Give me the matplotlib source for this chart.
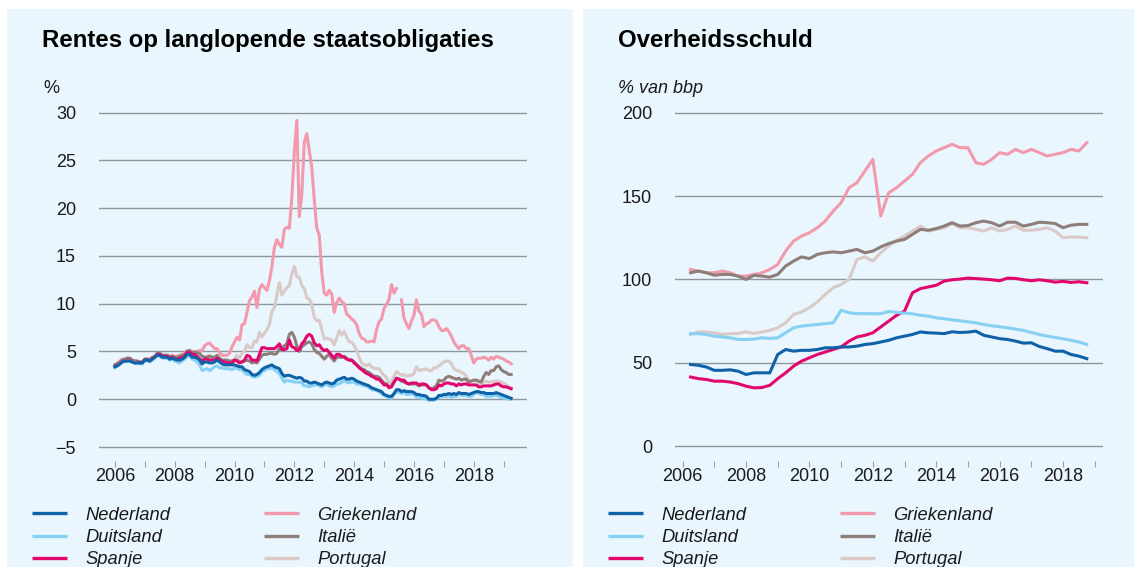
import numpy as np
import matplotlib
matplotlib.use("Agg")
import matplotlib.pyplot as plt
from matplotlib.lines import Line2D
from matplotlib.patches import Rectangle

plt.rcParams['font.family'] = ['Liberation Sans', 'DejaVu Sans']

# ---- data ----
landen = ['Nederland', 'Duitsland', 'Spanje', 'Griekenland', 'Italië', 'Portugal']
kleuren = ['#0f62a8', '#86d0f3', '#e2066f', '#f299ad', '#8e7e7a', '#d9cac7']

# rente 10-jaars staatsobligaties, maandelijks jan 2006 - apr 2019 (%)
rente_nl = [3.4, 3.5, 3.7, 3.9, 4.0, 4.0, 4.0, 3.9, 3.8, 3.8, 3.8, 3.8,
            4.1, 4.1, 4.0, 4.2, 4.4, 4.6, 4.6, 4.4, 4.4, 4.4, 4.2, 4.3,
            4.2, 4.1, 4.1, 4.2, 4.4, 4.7, 4.7, 4.4, 4.4, 4.3, 4.1, 3.7,
            3.9, 3.9, 3.8, 3.8, 3.9, 4.1, 3.9, 3.7, 3.6, 3.6, 3.6, 3.6,
            3.6, 3.5, 3.4, 3.4, 3.1, 3.0, 2.9, 2.6, 2.5, 2.6, 2.8, 3.1,
            3.3, 3.4, 3.5, 3.6, 3.4, 3.3, 3.2, 2.7, 2.4, 2.5, 2.5, 2.4,
            2.3, 2.2, 2.3, 2.2, 1.9, 1.9, 1.7, 1.7, 1.8, 1.7, 1.6, 1.5,
            1.7, 1.8, 1.7, 1.6, 1.7, 2.0, 2.1, 2.2, 2.3, 2.1, 2.1, 2.2,
            2.1, 1.9, 1.8, 1.7, 1.6, 1.5, 1.4, 1.2, 1.1, 1.0, 0.9, 0.8,
            0.5, 0.4, 0.3, 0.3, 0.6, 1.0, 1.0, 0.8, 0.9, 0.8, 0.8, 0.8,
            0.7, 0.5, 0.5, 0.4, 0.4, 0.3, 0.0, 0.0, 0.0, 0.1, 0.4, 0.4,
            0.5, 0.5, 0.6, 0.5, 0.6, 0.5, 0.7, 0.6, 0.6, 0.6, 0.5, 0.6,
            0.7, 0.8, 0.8, 0.7, 0.7, 0.6, 0.6, 0.6, 0.6, 0.7, 0.6, 0.5,
            0.4, 0.3, 0.2, 0.1]
rente_de = [3.3, 3.5, 3.7, 3.9, 4.0, 4.0, 4.0, 3.9, 3.8, 3.8, 3.7, 3.7,
            4.0, 4.0, 3.9, 4.1, 4.3, 4.6, 4.5, 4.3, 4.3, 4.3, 4.1, 4.2,
            4.0, 3.9, 3.8, 4.0, 4.2, 4.5, 4.5, 4.2, 4.1, 3.9, 3.6, 3.0,
            3.1, 3.2, 3.0, 3.2, 3.4, 3.5, 3.3, 3.3, 3.2, 3.2, 3.2, 3.1,
            3.3, 3.2, 3.1, 3.1, 2.8, 2.6, 2.6, 2.4, 2.3, 2.4, 2.5, 2.9,
            3.0, 3.2, 3.2, 3.3, 3.1, 2.9, 2.7, 2.2, 1.8, 2.0, 1.9, 1.9,
            1.8, 1.8, 1.8, 1.7, 1.4, 1.4, 1.3, 1.4, 1.5, 1.5, 1.4, 1.3,
            1.5, 1.6, 1.4, 1.3, 1.4, 1.6, 1.6, 1.8, 1.9, 1.8, 1.7, 1.8,
            1.8, 1.6, 1.6, 1.5, 1.4, 1.4, 1.2, 1.0, 1.0, 0.9, 0.8, 0.6,
            0.4, 0.3, 0.2, 0.1, 0.5, 0.8, 0.7, 0.6, 0.7, 0.5, 0.5, 0.6,
            0.5, 0.2, 0.2, 0.1, 0.1, 0.0, -0.1, -0.1, -0.1, 0.0, 0.2, 0.3,
            0.3, 0.3, 0.4, 0.2, 0.3, 0.3, 0.5, 0.4, 0.4, 0.4, 0.3, 0.3,
            0.5, 0.7, 0.6, 0.5, 0.5, 0.3, 0.3, 0.3, 0.4, 0.4, 0.3, 0.2,
            0.1, 0.1, 0.0, 0.0]
rente_es = [3.4, 3.6, 3.7, 4.0, 4.0, 4.1, 4.1, 3.9, 3.8, 3.9, 3.8, 3.8,
            4.1, 4.1, 4.0, 4.3, 4.4, 4.7, 4.7, 4.5, 4.5, 4.5, 4.3, 4.4,
            4.2, 4.2, 4.3, 4.4, 4.5, 4.9, 4.9, 4.7, 4.7, 4.5, 4.2, 4.0,
            4.2, 4.2, 4.1, 4.1, 4.1, 4.3, 4.1, 4.0, 3.9, 3.8, 3.8, 3.8,
            4.1, 4.0, 3.8, 3.9, 4.1, 4.6, 4.5, 4.1, 4.1, 4.0, 4.7, 5.4,
            5.4, 5.3, 5.3, 5.3, 5.3, 5.5, 5.8, 5.2, 5.2, 5.3, 6.2, 5.5,
            5.4, 5.1, 5.2, 5.8, 6.1, 6.6, 6.8, 6.6, 5.9, 5.6, 5.7, 5.3,
            5.1, 5.2, 4.9, 4.6, 4.3, 4.7, 4.7, 4.5, 4.4, 4.2, 4.1, 4.1,
            3.8, 3.6, 3.3, 3.1, 2.9, 2.7, 2.6, 2.4, 2.3, 2.1, 2.1, 1.8,
            1.5, 1.5, 1.2, 1.3, 1.8, 2.2, 2.1, 2.0, 2.0, 1.7, 1.6, 1.7,
            1.7, 1.7, 1.5, 1.6, 1.6, 1.5, 1.2, 1.0, 1.0, 1.1, 1.5, 1.4,
            1.6, 1.7, 1.7, 1.6, 1.6, 1.4, 1.6, 1.5, 1.6, 1.6, 1.5, 1.5,
            1.5, 1.5, 1.3, 1.3, 1.4, 1.4, 1.4, 1.4, 1.5, 1.6, 1.6, 1.4,
            1.3, 1.3, 1.2, 1.1]
rente_gr = [3.6, 3.8, 4.0, 4.2, 4.2, 4.3, 4.3, 4.1, 4.0, 4.0, 3.9, 3.9,
            4.2, 4.2, 4.2, 4.4, 4.5, 4.8, 4.8, 4.6, 4.6, 4.6, 4.5, 4.6,
            4.5, 4.5, 4.6, 4.7, 4.8, 5.1, 5.1, 5.0, 5.0, 5.0, 5.1, 5.1,
            5.6, 5.8, 5.9, 5.6, 5.3, 5.3, 4.9, 4.6, 4.6, 4.6, 4.8, 5.5,
            6.0, 6.5, 6.2, 7.8, 7.9, 9.1, 10.3, 10.7, 11.3, 9.6, 11.5, 12.0,
            11.7, 11.4, 12.4, 13.9, 15.9, 16.7, 16.2, 15.9, 17.8, 18.0, 17.9, 21.1,
            25.9, 29.2, 19.1, 21.5, 26.9, 27.8, 26.0, 24.3, 20.9, 17.9, 17.2, 13.3,
            11.1, 10.9, 11.4, 11.0, 9.1, 10.1, 10.6, 10.2, 10.0, 8.9, 8.7, 8.4,
            8.2, 7.8, 6.9, 6.4, 6.3, 6.0, 6.0, 6.1, 6.0, 7.3, 8.1, 8.4,
            9.5, 9.9, 10.5, 12.0, 11.1, 11.6, np.nan, 10.4, 8.5, 7.9, 7.4, 8.2,
            8.8, 10.4, 9.2, 8.9, 7.6, 7.9, 8.0, 8.3, 8.3, 8.2, 7.6, 7.2,
            7.2, 7.4, 7.1, 6.6, 6.0, 5.6, 5.3, 5.6, 5.6, 5.3, 5.3, 4.6,
            3.8, 4.2, 4.3, 4.3, 4.4, 4.3, 4.1, 4.4, 4.2, 4.5, 4.4, 4.3,
            4.2, 4.0, 3.9, 3.7]
rente_it = [3.6, 3.7, 3.9, 4.1, 4.2, 4.3, 4.3, 4.1, 4.0, 4.0, 3.9, 3.9,
            4.2, 4.2, 4.1, 4.3, 4.5, 4.8, 4.8, 4.6, 4.6, 4.6, 4.4, 4.5,
            4.4, 4.4, 4.5, 4.6, 4.7, 5.0, 5.1, 4.9, 4.9, 4.9, 4.8, 4.5,
            4.4, 4.4, 4.5, 4.4, 4.4, 4.6, 4.3, 4.1, 4.1, 4.1, 4.0, 4.0,
            4.1, 4.1, 3.9, 3.9, 4.0, 4.1, 4.0, 3.8, 3.9, 3.8, 4.2, 4.6,
            4.7, 4.7, 4.8, 4.8, 4.7, 4.8, 5.3, 5.3, 5.6, 5.8, 6.8, 7.0,
            6.5, 5.6, 5.0, 5.5, 5.7, 5.9, 6.0, 5.8, 5.2, 4.9, 4.8, 4.5,
            4.2, 4.5, 4.7, 4.3, 4.0, 4.4, 4.4, 4.4, 4.5, 4.3, 4.1, 4.1,
            3.9, 3.6, 3.4, 3.2, 3.1, 2.9, 2.8, 2.6, 2.4, 2.4, 2.3, 2.0,
            1.7, 1.6, 1.3, 1.4, 1.8, 2.2, 2.1, 1.9, 1.8, 1.7, 1.6, 1.6,
            1.6, 1.6, 1.4, 1.5, 1.5, 1.5, 1.2, 1.1, 1.2, 1.4, 2.0, 1.9,
            2.0, 2.3, 2.4, 2.3, 2.2, 2.1, 2.2, 2.0, 2.1, 2.1, 1.8, 1.9,
            2.0, 2.0, 1.9, 1.8, 2.4, 2.8, 2.6, 3.0, 3.0, 3.4, 3.5, 3.1,
            2.9, 2.8, 2.6, 2.6]
rente_pt = [3.5, 3.6, 3.8, 4.0, 4.1, 4.2, 4.2, 4.0, 3.9, 3.9, 3.8, 3.9,
            4.1, 4.1, 4.1, 4.3, 4.4, 4.7, 4.7, 4.5, 4.5, 4.5, 4.4, 4.4,
            4.3, 4.3, 4.4, 4.5, 4.6, 5.0, 5.1, 4.8, 4.7, 4.6, 4.3, 4.2,
            4.4, 4.5, 4.6, 4.4, 4.4, 4.4, 4.2, 4.0, 4.0, 4.0, 3.9, 4.0,
            4.2, 4.6, 4.3, 4.8, 5.0, 5.7, 5.4, 5.4, 6.1, 6.0, 7.0, 6.5,
            6.9, 7.3, 7.8, 9.2, 9.6, 10.9, 12.2, 10.9, 11.3, 11.7, 11.9, 13.1,
            13.9, 12.8, 12.8, 11.9, 11.6, 10.6, 10.5, 9.9, 8.6, 8.2, 8.3, 7.3,
            6.3, 6.4, 6.3, 6.2, 5.7, 6.4, 7.2, 6.7, 7.1, 6.5, 6.0, 6.0,
            5.6, 5.1, 4.4, 3.8, 3.6, 3.5, 3.7, 3.4, 3.2, 3.2, 3.2, 2.8,
            2.5, 2.3, 1.7, 1.9, 2.4, 2.9, 2.7, 2.5, 2.6, 2.4, 2.5, 2.5,
            2.7, 3.4, 3.0, 3.1, 3.1, 3.2, 3.0, 3.0, 3.3, 3.3, 3.5, 3.7,
            3.9, 4.0, 4.0, 3.7, 3.2, 3.0, 3.0, 2.8, 2.7, 2.4, 2.0, 1.9,
            1.9, 2.0, 1.7, 1.6, 1.8, 1.9, 1.8, 1.8, 1.9, 1.9, 1.9, 1.8,
            1.7, 1.5, 1.3, 1.2]

# overheidsschuld, per kwartaal 2006 - 2018 (% van bbp)
schuld_nl = [49, 48.5, 47.5, 45.5, 45.5, 45.8, 45, 43, 44, 44, 44,
             55, 58, 57, 57.5, 57.5, 58, 59, 59, 59.5, 59.5, 60, 61,
             61.5, 62.5, 63.5, 65, 66, 67, 68.5, 68, 67.8, 67.5, 68.6, 68.2,
             68.4, 69, 66.5, 65.5, 64.5, 64, 63, 61.8, 62, 59.8, 58.5, 57,
             57, 55, 54, 52.5]
schuld_de = [67.5, 67.5, 67, 66, 65.5, 65, 64, 64, 64.2, 65, 64.6,
             65, 68, 71, 72, 72.5, 73, 73.5, 74, 81.5, 80, 79.5, 79.5,
             79.4, 79.5, 80.8, 80.2, 79.8, 79.4, 78.5, 78, 77, 76.4, 75.8, 75.2,
             74.6, 74, 73, 72.2, 71.6, 71, 70.2, 69.4, 68.2, 67, 66, 65.2,
             64.4, 63.5, 62.5, 61]
schuld_es = [41.5, 40.5, 40, 39, 39, 38.5, 37.5, 36, 35, 35.2, 36.5,
             40.5, 44, 48, 51, 53, 55, 56.5, 58, 59.5, 63, 65.5, 66.5,
             68, 71.5, 75, 78.5, 81, 92, 94.5, 95.5, 96.5, 99, 99.8, 100.2,
             100.8, 100.5, 100.2, 99.8, 99.2, 100.8, 100.6, 99.8, 99.2, 99.8, 99.2, 98.4,
             98.8, 98.2, 98.6, 98]
schuld_gr = [106, 105, 104, 104, 105, 104, 102, 102, 103, 104, 106,
             109, 117, 123, 126, 128, 131, 135, 141, 146, 155, 158, 165,
             172, 138, 152, 155, 159, 163, 170, 174, 177, 179, 181, 179,
             179, 170, 169, 172, 176, 175, 178, 176, 178, 176, 174, 175,
             176, 178, 177, 182]
schuld_it = [104, 105, 104, 102.5, 103, 103, 102, 100, 102.5, 102, 101.4,
             103, 108, 111, 113.5, 112.5, 115, 116, 116.5, 116, 117, 118, 116,
             117, 119.5, 121.5, 123, 124, 127, 130, 129.5, 130.5, 132, 134, 132,
             132.3, 134, 135, 134, 132, 134.3, 134.3, 132, 133, 134.3, 134, 133.5,
             131, 132.5, 133, 133]
schuld_pt = [67, 68.5, 68.5, 68, 67, 67.5, 67.6, 68.6, 67.6, 68.5, 69.5,
             71, 74, 79, 80.5, 83, 86.5, 91, 95, 97, 100, 112, 113.5,
             111, 116, 120, 123.5, 126, 129, 132, 129, 130, 131, 133.5, 131,
             131, 130, 129, 131, 129, 130, 132, 129.5, 129.5, 130, 131, 129,
             125, 125.5, 125.3, 125]

rente = [rente_nl, rente_de, rente_es, rente_gr, rente_it, rente_pt]
schuld = [schuld_nl, schuld_de, schuld_es, schuld_gr, schuld_it, schuld_pt]

jaren = list(range(2006, 2020))
jaar_labels = [str(j) if j % 2 == 0 else '' for j in jaren]
rente_ticks = [-5, 0, 5, 10, 15, 20, 25, 30]
rente_labels = ['\u22125', '0', '5', '10', '15', '20', '25', '30']
schuld_ticks = [0, 50, 100, 150, 200]
schuld_labels = ['0', '50', '100', '150', '200']

# ---- layout in pixels ----
W, H = 1134, 567
def fx(px):
    return px / W
def fy(py):
    return 1 - py / H

bg = '#eaf6fd'
grid_c = '#8d969c'
tekst_c = '#1a1a1a'

fig = plt.figure(figsize=(W / 100, H / 100), dpi=100)
fig.patch.set_facecolor('white')
fig.add_artist(Rectangle((fx(7), 0), fx(573) - fx(7), fy(9), transform=fig.transFigure,
                         facecolor=bg, edgecolor='none', zorder=0))
fig.add_artist(Rectangle((fx(583), 0), fx(1134) - fx(583), fy(9), transform=fig.transFigure,
                         facecolor=bg, edgecolor='none', zorder=0))


def make_axes(left_px, right_px, ylim, yticks, ylabels, xlim):
    top_px, bot_px = 108.8, 460.5
    ax = fig.add_axes([fx(left_px), fy(bot_px), fx(right_px) - fx(left_px), fy(top_px) - fy(bot_px)])
    ax.set_facecolor('none')
    for s in ax.spines.values():
        s.set_visible(False)
    ax.set_xlim(*xlim)
    ax.set_ylim(*ylim)
    ax.set_yticks(yticks)
    ax.set_yticklabels(ylabels)
    ax.set_xticks(jaren)
    ax.set_xticklabels(jaar_labels)
    ax.tick_params(axis='y', length=0, pad=16.5, labelsize=13, labelcolor=tekst_c)
    ax.tick_params(axis='x', length=4, width=0.8, color='#9aa0a4', pad=1.5,
                   labelsize=13, labelcolor=tekst_c)
    ax.grid(axis='y', color=grid_c, linewidth=1.0)
    ax.set_axisbelow(True)
    return ax


def legend(x_px):
    # two columns of three entries
    rows = [513, 535.5, 557.5]
    for i, (naam, kleur) in enumerate(zip(landen, kleuren)):
        col, row = divmod(i, 3)
        x0 = x_px[col]
        y = rows[row]
        fig.add_artist(Line2D([fx(x0), fx(x0 + 35)], [fy(y), fy(y)], transform=fig.transFigure,
                              color=kleur, linewidth=2.4, solid_capstyle='butt'))
        fig.text(fx(x0 + 53), fy(y + 7), naam, fontsize=13.2, style='italic',
                 color=tekst_c, va='baseline', ha='left')


# ---- links: rente ----
ax1 = make_axes(98.9, 527.3, (-6.41, 30.4), rente_ticks, rente_labels, (2005.465, 2019.79))
maanden = 2006 + np.arange(len(rente_nl)) / 12
volgorde = [5, 3, 4, 2, 1, 0]
for i in volgorde:
    ax1.plot(maanden, rente[i], color=kleuren[i], linewidth=2.2, solid_joinstyle='round')
fig.text(fx(42), fy(47), 'Rentes op langlopende staatsobligaties', fontsize=17.3,
         fontweight='bold', color='black', va='baseline')
fig.text(fx(43), fy(93), '%', fontsize=13, color=tekst_c, va='baseline')
legend([32, 264])

# ---- rechts: schuld ----
ax2 = make_axes(675, 1103, (-8.56, 202.3), schuld_ticks, schuld_labels, (2005.76, 2019.26))
kwartalen = 2006.25 + np.arange(len(schuld_nl)) / 4
volgorde2 = [3, 5, 4, 2, 1, 0]
for i in volgorde2:
    ax2.plot(kwartalen, schuld[i], color=kleuren[i], linewidth=2.2, solid_joinstyle='round')
fig.text(fx(618), fy(47), 'Overheidsschuld', fontsize=17.3,
         fontweight='bold', color='black', va='baseline')
fig.text(fx(618), fy(93), '% van bbp', fontsize=13, style='italic', color=tekst_c, va='baseline')
legend([608, 840])

fig.savefig('out.png', dpi=100, facecolor=fig.get_facecolor())
